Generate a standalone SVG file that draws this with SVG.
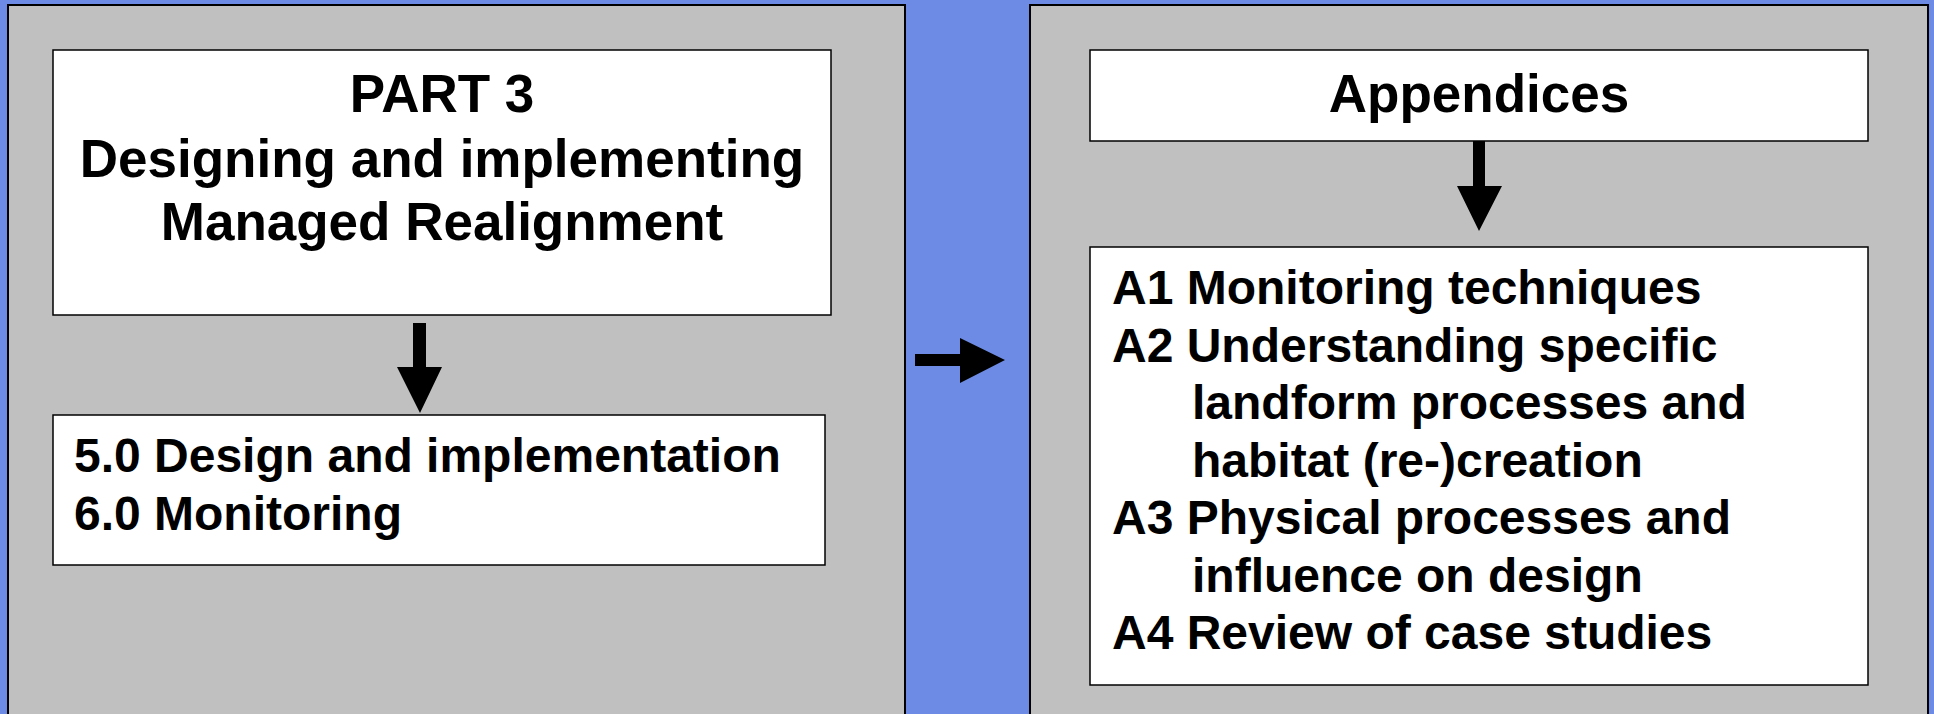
<svg xmlns="http://www.w3.org/2000/svg" width="1934" height="714" viewBox="0 0 1934 714">
<style>
.panel{fill:#C0C0C0;stroke:#000;stroke-width:2}
.box{fill:#fff;stroke:#000;stroke-width:1.5}
.t{font-family:"Liberation Sans",Arial,sans-serif;font-weight:bold;fill:#000}
.title{font-size:53px;text-anchor:middle}
.list{font-size:48px}
.arrow{fill:#000}
</style>
<rect x="0" y="0" width="1934" height="714" fill="#6D8BE4"/>
<g id="panel-left"><rect class="panel" x="8" y="5" width="897" height="720"/></g>
<g id="panel-right"><rect class="panel" x="1030" y="5" width="898" height="720"/></g>
<g id="part3">
<rect class="box" x="53" y="50" width="778" height="265"/>
<text class="t title" x="442" y="112">PART 3</text>
<text class="t title" x="442" y="177">Designing and implementing</text>
<text class="t title" x="442" y="240">Managed Realignment</text>
</g>
<g id="chapters">
<rect class="box" x="53" y="415" width="772" height="150"/>
<text class="t list" x="74" y="472">5.0 Design and implementation</text>
<text class="t list" x="74" y="530">6.0 Monitoring</text>
</g>
<g id="appendices">
<rect class="box" x="1090" y="50" width="778" height="91"/>
<text class="t title" x="1479" y="112">Appendices</text>
</g>
<g id="appendix-list">
<rect class="box" x="1090" y="247" width="778" height="438"/>
<text class="t list" x="1112" y="304">A1 Monitoring techniques</text>
<text class="t list" x="1112" y="362">A2 Understanding specific</text>
<text class="t list" x="1192" y="419">landform processes and</text>
<text class="t list" x="1192" y="477">habitat (re-)creation</text>
<text class="t list" x="1112" y="534">A3 Physical processes and</text>
<text class="t list" x="1192" y="592">influence on design</text>
<text class="t list" x="1112" y="649">A4 Review of case studies</text>
</g>
<g id="connectors">
<polygon class="arrow" points="413,323 426,323 426,367 442,367 420,413 397,367 413,367"/>
<polygon class="arrow" points="915,354 960,354 960,338 1005,360 960,383 960,366 915,366"/>
<polygon class="arrow" points="1473,141 1485,141 1485,186 1502,186 1479,231 1457,186 1473,186"/>
</g>
</svg>
